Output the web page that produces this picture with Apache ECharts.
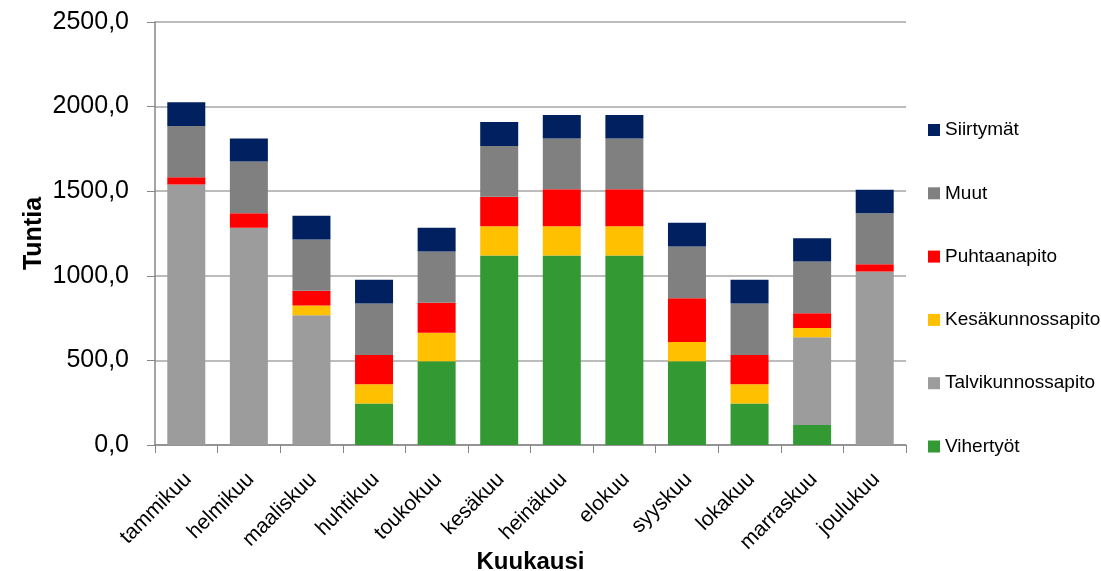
<!DOCTYPE html>
<html>
<head>
<meta charset="utf-8">
<script src="https://cdn.jsdelivr.net/npm/echarts@6/dist/echarts.min.js"></script>
<style>
html,body{margin:0;padding:0;background:#fff;}
#chart{width:1101px;height:571px;}
</style>
</head>
<body>
<div id="chart"></div>
<script>
const months = ['tammikuu','helmikuu','maaliskuu','huhtikuu','toukokuu','kesäkuu','heinäkuu','elokuu','syyskuu','lokakuu','marraskuu','joulukuu'];
const vihertyot = [0, 0, 0, 246, 495, 1120, 1120, 1120, 495, 246, 118, 0];
const talvikunnossapito = [1540, 1284, 767, 0, 0, 0, 0, 0, 0, 0, 519, 1025];
const kesakunnossapito = [0, 0, 57, 113, 169, 173, 173, 173, 114, 113, 55, 0];
const puhtaanapito = [43, 86, 87, 173, 176, 174, 218, 218, 259, 173, 87, 44];
const muut = [302, 305, 304, 304, 304, 300, 301, 301, 305, 304, 306, 301];
const siirtymat = [140, 137, 140, 140, 140, 142, 138, 138, 141, 140, 137, 139];

const FONT = 'Liberation Sans';
const chart = echarts.init(document.getElementById('chart'), null, {renderer:'canvas'});
function s(name, data, color){
  return {name, type:'bar', stack:'total', data, barWidth:38, itemStyle:{color}, emphasis:{disabled:true}};
}
chart.setOption({
  animation:false,
  textStyle:{fontFamily:FONT},
  grid:{left:155, right:195, top:22, bottom:126, containLabel:false, outerBoundsMode:'none'},
  legend:{
    orient:'vertical', left:928, top:120, padding:0,
    itemWidth:12, itemHeight:12, itemGap:43.3,
    icon:'rect',
    textStyle:{fontFamily:FONT, fontSize:19, color:'#000', lineHeight:20},
    data:['Siirtymät','Muut','Puhtaanapito','Kesäkunnossapito','Talvikunnossapito','Vihertyöt']
  },
  xAxis:{
    type:'category', data:months,
    name:'Kuukausi', nameLocation:'middle', nameGap:105, nameMoveOverlap:false,
    nameTextStyle:{fontFamily:FONT, fontSize:24, fontWeight:'bold', color:'#000'},
    axisLine:{lineStyle:{color:'#868686', width:1.5}},
    axisTick:{show:true, alignWithLabel:false, length:8, lineStyle:{color:'#868686'}},
    axisLabel:{rotate:45, fontFamily:FONT, fontSize:21, color:'#000', margin:18, interval:0,
      align:'right', verticalAlign:'top', padding:[0,8,0,0]}
  },
  yAxis:{
    type:'value', min:0, max:2500, interval:500,
    name:'Tuntia', nameLocation:'middle', nameGap:108, nameRotate:90, nameMoveOverlap:false,
    nameTextStyle:{fontFamily:FONT, fontSize:25, fontWeight:'bold', color:'#000'},
    axisLine:{show:true, lineStyle:{color:'#868686', width:1.5}},
    axisTick:{show:true, length:8, lineStyle:{color:'#868686'}},
    axisLabel:{fontFamily:FONT, fontSize:25, color:'#000', margin:26,
      formatter:v=>v.toFixed(1).replace('.',',')},
    splitLine:{lineStyle:{color:'#a6a6a6', width:1.5}}
  },
  series:[
    s('Vihertyöt', vihertyot, '#339933'),
    s('Talvikunnossapito', talvikunnossapito, '#9c9c9c'),
    s('Kesäkunnossapito', kesakunnossapito, '#ffc000'),
    s('Puhtaanapito', puhtaanapito, '#ff0000'),
    s('Muut', muut, '#808080'),
    s('Siirtymät', siirtymat, '#002060')
  ]
});
</script>
</body>
</html>
